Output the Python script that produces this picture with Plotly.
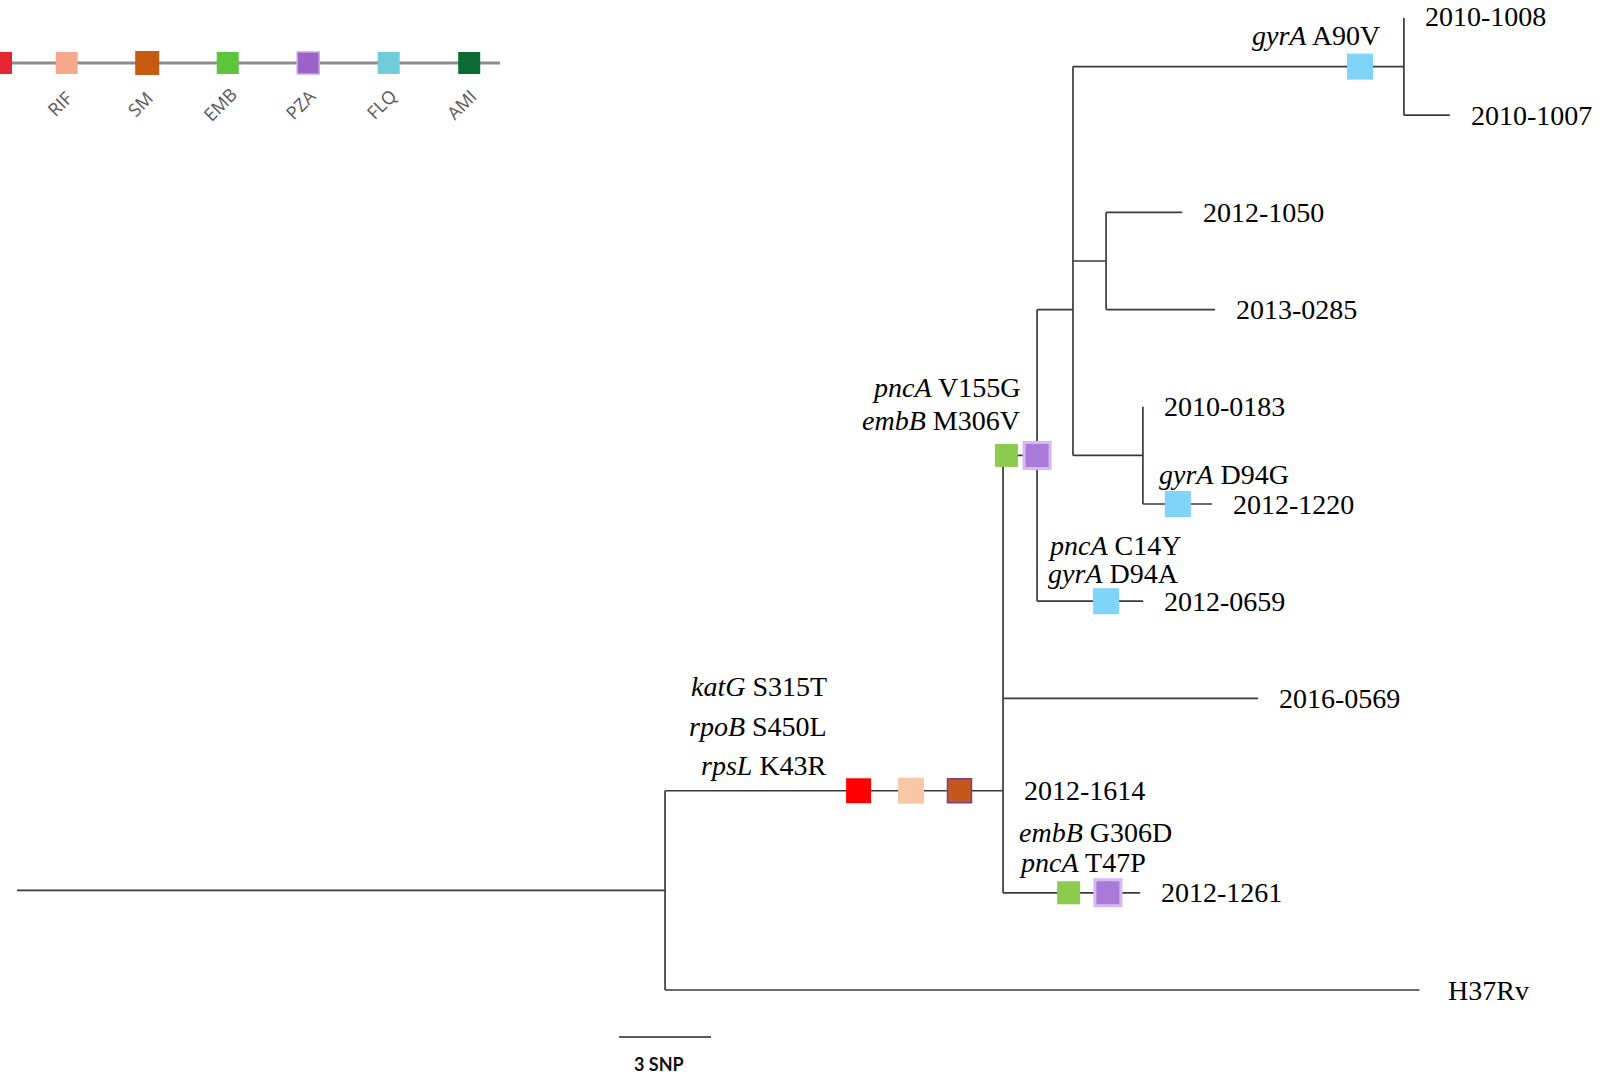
import plotly.graph_objects as go

# ---------------- data ----------------
# tree topology: node, parent, branch length (SNPs)
node_names = ["root", "N1", "H37Rv", "N2", "2012-1614", "2016-0569", "2012-1261",
              "NB", "2012-0659", "NC", "ND", "2010-1008", "2010-1007",
              "NE", "2012-1050", "2013-0285", "NF", "2010-0183", "2012-1220"]
node_parents = [None, "root", "N1", "N1", "N2", "N2", "N2",
                "N2", "NB", "NB", "NC", "ND", "ND",
                "NC", "NE", "NE", "NC", "NF", "NF"]
branch_lengths = [0, 21.13, 24.6, 11.02, 0, 8.31, 4.47,
                  1.11, 3.46, 1.17, 10.79, 0, 1.5,
                  1.08, 2.48, 3.55, 2.28, 0, 2.25]

# leaf order (rows from top)
leaf_names = ["2010-1008", "2010-1007", "2012-1050", "2013-0285", "2010-0183",
              "2012-1220", "2012-0659", "2016-0569", "2012-1614", "2012-1261", "H37Rv"]
leaf_rows = [0, 1, 2, 3, 4, 5, 6, 7, 7.95, 9, 10]
# internal nodes not drawn at the mean of their children
row_override_nodes = ["NC", "N2"]
row_override_values = [3.0, 7.95]

# resistance mutations: branch (child node), distance from parent (SNP), drug
mut_branch = ["N2", "N2", "N2", "NB", "NB", "2012-1261", "2012-1261", "2012-0659", "ND", "2012-1220"]
mut_offset = [6.31, 8.02, 9.6, 0.11, 1.11, 2.14, 3.42, 2.25, 9.36, 1.14]
mut_drug = ["INH", "RIF", "SM", "EMB", "PZA", "EMB", "PZA", "FLQ", "FLQ", "FLQ"]

# mutation label groups (text lines)
mut_labels = [
    ["<i>katG</i> S315T", "<i>rpoB</i> S450L", "<i>rpsL</i> K43R"],
    ["<i>pncA</i> V155G", "<i>embB</i> M306V"],
    ["<i>embB</i> G306D", "<i>pncA</i> T47P"],
    ["<i>pncA</i> C14Y", "<i>gyrA</i> D94A"],
    ["<i>gyrA</i> D94G"],
    ["<i>gyrA</i> A90V"],
]

# drug legend
legend_drugs = ["INH", "RIF", "SM", "EMB", "PZA", "FLQ", "AMI"]
legend_labels = ["", "RIF", "SM", "EMB", "PZA", "FLQ", "AMI"]

scale_snp = 3
scale_label = "3 SNP"

# ---------------- styling ----------------
W, H = 1600, 1076
PX_PER_SNP = 30.67
ROOT_PX = 17.0
ROW0_PX = 18.0
ROW_PX = 97.2

tree_colors = {"INH": "#ff0000", "RIF": "#f8c8a6", "SM": "#c4581c", "EMB": "#8dcb4f",
               "PZA": "#a97ad8", "FLQ": "#7fd4f7", "AMI": "#0c6b34"}
tree_sizes = {"INH": 25, "RIF": 26, "SM": 24, "EMB": 23, "PZA": 26, "FLQ": 26, "AMI": 24}
tree_lines = {"SM": ("#7a3f8c", 1.5), "PZA": ("#d6b8f4", 3)}
legend_colors = {"INH": "#e32631", "RIF": "#f6a88c", "SM": "#c55a11", "EMB": "#5cc43d",
                 "PZA": "#9b62c7", "FLQ": "#70cdd8", "AMI": "#0c6b34"}

SERIF = "Liberation Serif, Times New Roman, serif"
FS = 28

# ---------------- layout computation ----------------
parent = dict(zip(node_names, node_parents))
blen = dict(zip(node_names, branch_lengths))
children = {n: [] for n in node_names}
for n, p in zip(node_names, node_parents):
    if p is not None:
        children[p].append(n)

xpos = {}
for n in node_names:
    p = parent[n]
    xpos[n] = 0.0 if p is None else xpos[p] + blen[n]

row = dict(zip(leaf_names, leaf_rows))
override = dict(zip(row_override_nodes, row_override_values))


def get_row(n):
    if n in row:
        return row[n]
    for c in children[n]:
        get_row(c)
    row[n] = override.get(n, sum(row[c] for c in children[n]) / len(children[n]))
    return row[n]


get_row("root")
row["root"] = row["N1"]

lx, ly = [], []
for n in node_names:
    p = parent[n]
    if p is not None:
        lx += [xpos[p], xpos[n], None]
        ly += [row[n], row[n], None]
    if children[n] and n != "root":
        rs = [row[c] for c in children[n]] + [row[n]]
        lx += [xpos[n], xpos[n], None]
        ly += [min(rs), max(rs), None]

fig = go.Figure()
fig.add_trace(go.Scatter(x=lx, y=ly, mode="lines", line=dict(color="#3a3a3a", width=1.7),
                         hoverinfo="skip", showlegend=False))

# mutation markers
mx = {d: [] for d in tree_colors}
my = {d: [] for d in tree_colors}
for b, o, d in zip(mut_branch, mut_offset, mut_drug):
    mx[d].append(xpos[parent[b]] + o)
    my[d].append(row[b])
for d in tree_colors:
    if not mx[d]:
        continue
    lc, lw = tree_lines.get(d, (tree_colors[d], 0))
    fig.add_trace(go.Scatter(x=mx[d], y=my[d], mode="markers",
                             marker=dict(symbol="square", size=tree_sizes[d], color=tree_colors[d],
                                         opacity=1, line=dict(color=lc, width=lw)),
                             hoverinfo="skip", showlegend=False))

# leaf labels
for n in leaf_names:
    fig.add_annotation(x=xpos[n], y=row[n], text=n, showarrow=False, xanchor="left",
                       yanchor="middle", xshift=20 if n != "H37Rv" else 27,
                       yshift=2 if n == "2010-1008" else 0, borderpad=0,
                       font=dict(family=SERIF, size=FS, color="black"))

# mutation label groups
def mpos(i):
    return xpos[parent[mut_branch[i]]] + mut_offset[i]

group_anchor = [
    (mpos(0), row["N2"], "right", -30, [104, 64, 25]),
    (mpos(3), row["NB"], "right", 16, [68, 35]),
    (xpos["N2"], row["2012-1261"], "left", 14, [60, 30]),
    (xpos["NB"], row["2012-0659"], "left", 9, [56, 28]),
    (xpos["NF"], row["2012-1220"], "left", 14, [30]),
    (mpos(8), row["ND"], "right", 22, [31]),
]
for lines, (ax, ay, anc, xs, yss) in zip(mut_labels, group_anchor):
    for t, ys in zip(lines, yss):
        fig.add_annotation(x=ax, y=ay, text=t, showarrow=False, xanchor=anc, yanchor="middle",
                           xshift=xs, yshift=ys, font=dict(family=SERIF, size=FS, color="black"))

# scale bar
sb_x0 = (619 - ROOT_PX) / PX_PER_SNP
sb_row = (1037 - ROW0_PX) / ROW_PX
fig.add_trace(go.Scatter(x=[sb_x0, sb_x0 + scale_snp], y=[sb_row, sb_row], mode="lines",
                         line=dict(color="#222222", width=1.6), hoverinfo="skip", showlegend=False))
fig.add_annotation(x=sb_x0 + scale_snp / 2, y=sb_row, text="<b>" + scale_label + "</b>",
                   showarrow=False, xanchor="center", yanchor="middle", yshift=-27, xshift=-6,
                   borderpad=0,
                   font=dict(family="Lato, Open Sans, sans-serif", size=18, color="#111111"))

# drug legend (overlay axes in page pixels)
leg_y = 63
leg_x = [1.0] + [66.7 + i * 80.5 for i in range(len(legend_drugs) - 1)]
clear = "rgba(0,0,0,0)"
fig.add_trace(go.Scatter(x=[0, 500], y=[leg_y, leg_y], mode="lines", xaxis="x2", yaxis="y2",
                         line=dict(color="#8c8c8c", width=3), hoverinfo="skip", showlegend=False))
fig.add_trace(go.Scatter(x=leg_x, y=[leg_y] * len(leg_x), mode="markers", xaxis="x2", yaxis="y2",
                         marker=dict(symbol="square", size=[22, 22, 24, 22, 22, 22, 22], opacity=1,
                                     color=[legend_colors[d] for d in legend_drugs],
                                     line=dict(color=[clear] * 4 + ["#c9a6ea", clear, clear], width=1.5)),
                         hoverinfo="skip", showlegend=False))
for x, lab in zip(leg_x, legend_labels):
    if lab:
        fig.add_annotation(x=x - 7.5, y=104, xref="x2", yref="y2", text=lab, showarrow=False,
                           textangle=-45, xanchor="center", yanchor="middle",
                           font=dict(family="Open Sans, sans-serif", size=18, color="#595959"))

fig.update_layout(
    width=W, height=H, margin=dict(l=0, r=0, t=0, b=0),
    paper_bgcolor="white", plot_bgcolor="white", showlegend=False,
    xaxis=dict(range=[-ROOT_PX / PX_PER_SNP, (W - ROOT_PX) / PX_PER_SNP], visible=False, fixedrange=True),
    yaxis=dict(range=[(H - ROW0_PX) / ROW_PX, -ROW0_PX / ROW_PX], visible=False, fixedrange=True),
    xaxis2=dict(range=[0, W], overlaying="x", visible=False, anchor="y2", fixedrange=True),
    yaxis2=dict(range=[H, 0], overlaying="y", visible=False, anchor="x2", fixedrange=True),
)
fig.write_html("out.html", config={"displayModeBar": False, "staticPlot": True},
               post_script="document.body.style.margin='0px';document.body.style.overflow='hidden';")
